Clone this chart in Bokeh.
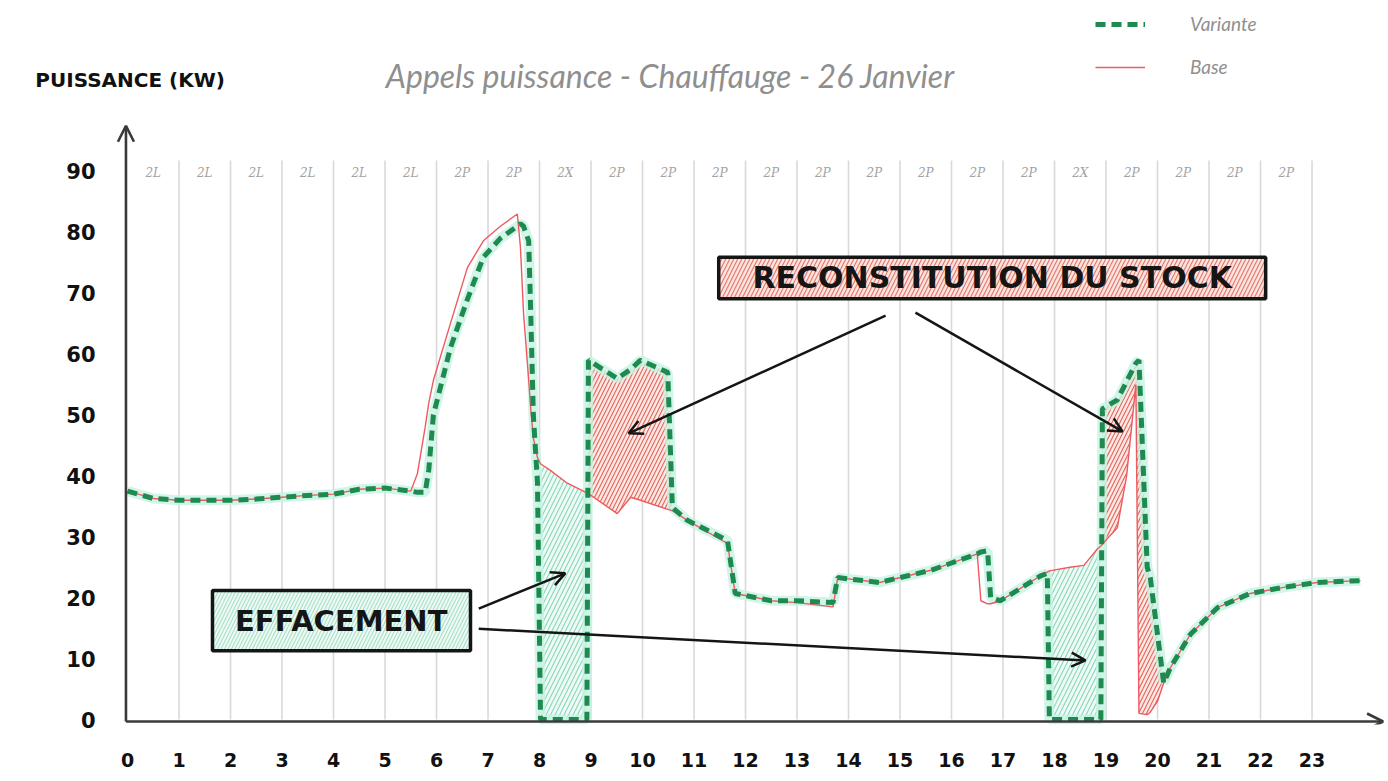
import numpy as np
from bokeh.plotting import figure
from bokeh.models import Range1d, FixedTicker, Legend, LegendItem, Arrow, OpenHead, Label
from bokeh.core.properties import value
from bokeh.embed import file_html
from bokeh.resources import INLINE

# ---------------- data ----------------
hours = [0.0, 0.5, 1.0, 1.5, 2.0, 2.5, 3.0, 3.5, 4.0, 4.5, 5.0, 5.5, 5.63, 5.78, 5.85,
         5.94, 6.27, 6.6, 6.91, 7.24, 7.57, 7.63, 7.69, 7.79, 7.83, 7.88, 7.96, 8.02,
         8.21, 8.54, 8.92, 8.95, 9.51, 9.77, 9.96, 10.49, 10.58, 10.87, 11.65, 11.8,
         12.5, 13.0, 13.7, 13.79, 14.6, 15.6, 16.5, 16.57, 16.7, 16.76, 16.95, 17.73,
         17.86, 17.9, 18.3, 18.57, 18.83, 18.9, 18.93, 19.22, 19.4, 19.58, 19.64, 19.8,
         19.86, 20.0, 20.12, 20.25, 20.64, 21.17, 21.8, 22.45, 23.1, 23.94]
variante = [37.5, 36.3, 36.0, 36.0, 36.0, 36.2, 36.5, 36.8, 37.0, 37.8, 38.0, 37.5, 37.3, 37.3, 41.0,
            50.0, 61.0, 69.0, 75.9, 79.0, 81.0, 81.4, 81.0, 78.6, 66.7, 50.0, 39.0, 0.0,
            0.0, 0.0, 0.0, 59.0, 56.0, 57.5, 59.0, 57.0, 34.8, 32.7, 29.4, 20.7,
            19.5, 19.5, 19.2, 23.3, 22.5, 24.5, 27.2, 27.5, 27.7, 20.0, 19.5, 23.6,
            24.0, 0.0, 0.0, 0.0, 0.0, 0.0, 51.0, 52.5, 55.5, 58.5, 59.0, 25.0,
            23.3, 14.0, 6.0, 8.5, 14.0, 18.4, 20.7, 21.7, 22.5, 22.8]
base = [37.5, 36.3, 36.0, 36.0, 36.0, 36.2, 36.5, 36.8, 37.0, 37.8, 38.0, 37.5, 40.4, 48.0, 52.0,
        55.7, 65.0, 74.2, 78.6, 81.0, 83.0, 77.5, 66.7, 55.7, 51.0, 46.3, 43.0, 42.0,
        40.9, 38.8, 37.2, 37.1, 33.8, 36.5, 36.0, 34.5, 34.3, 32.7, 28.9, 20.7,
        19.5, 19.2, 18.5, 23.3, 22.5, 24.5, 27.2, 19.5, 19.0, 19.0, 19.5, 23.6,
        24.2, 24.4, 25.0, 25.3, 28.0, 28.5, 28.8, 31.5, 40.0, 55.0, 1.0, 0.8,
        1.2, 3.0, 6.0, 8.5, 14.0, 18.4, 20.7, 21.7, 22.5, 22.8]

hour_ticks = list(range(24))
kw_ticks = list(range(0, 100, 10))
column_labels = ["2L", "2L", "2L", "2L", "2L", "2L", "2P", "2P", "2X", "2P", "2P", "2P",
                 "2P", "2P", "2P", "2P", "2P", "2P", "2X", "2P", "2P", "2P", "2P"]
title_text = "Appels puissance - Chauffauge - 26 Janvier"
y_title_text = "PUISSANCE (KW)"
effacement_periods = [(7.96, 8.92), (17.86, 18.9)]
reconstitution_periods = [(8.95, 10.87), (18.93, 20.12)]

h = np.array(hours)
v = np.array(variante)
b = np.array(base)

# ---------------- figure ----------------
W, H = 1385, 778
p = figure(width=W, height=H, output_backend="svg", toolbar_location=None,
           x_range=Range1d(-2.039, 24.427), y_range=Range1d(-0.82, 118.06),
           min_border_left=22, min_border_right=0, min_border_top=0, min_border_bottom=54,
           background_fill_color="white", border_fill_color="white", outline_line_color=None)
p.grid.visible = False

for ax in (p.xaxis[0], p.yaxis[0]):
    ax.axis_line_color = None
    ax.major_tick_line_color = None
    ax.minor_tick_line_color = None
    ax.major_tick_out = 0
    ax.major_tick_in = 0
    ax.minor_tick_out = 0
    ax.minor_tick_in = 0
    ax.major_label_text_font = "DejaVu Sans"
    ax.major_label_text_font_style = "bold"
    ax.major_label_text_color = "#111111"
p.xaxis.major_label_text_font_size = "19px"
p.yaxis.major_label_text_font_size = "21px"
p.xaxis.ticker = FixedTicker(ticks=hour_ticks)
p.yaxis.ticker = FixedTicker(ticks=kw_ticks)
p.xaxis.major_label_standoff = 28
# y labels sit between the page edge and the hand-drawn y arrow
p.yaxis.major_label_standoff = -73

# vertical hour grid
grid_hours = hour_ticks[1:]
p.segment(x0=grid_hours, y0=0, x1=grid_hours, y1=91.8, line_color="#d9d9d9", line_width=1.6)

# column labels
p.text(x=[i + 0.5 for i in range(len(column_labels))], y=[89.8] * len(column_labels),
       text=column_labels, text_align="center", text_baseline="middle",
       text_font=value("DejaVu Serif"), text_font_style="italic", text_font_size="12px",
       text_color="#a3a3a3")

# hatched areas
for a0, a1 in effacement_periods:
    m = (h >= a0) & (h <= a1)
    p.varea(x=h[m], y1=v[m], y2=b[m], fill_color="#effaf6", fill_alpha=1.0,
            hatch_pattern="/", hatch_color="#86d9b7", hatch_scale=9, hatch_weight=1.1)
for a0, a1 in reconstitution_periods:
    m = (h >= a0) & (h <= a1)
    p.varea(x=h[m], y1=v[m], y2=b[m], fill_color="#fdeae6", fill_alpha=1.0,
            hatch_pattern="/", hatch_color="#e6675c", hatch_scale=8, hatch_weight=1.2)

# series
p.line(h, v, line_color="#c6f2e2", line_width=10, line_alpha=0.8)
r_base = p.line(h, b, line_color="#ee5a5f", line_width=1.4)
r_var = p.line(h, v, line_color="#1f8a4f", line_width=5, line_dash="10 6")

# axes arrows
ax_col = "#3a3a3a"
p.add_layout(Arrow(x_start=-0.03, y_start=-0.33, x_end=-0.03, y_end=97.5,
                   line_color=ax_col, line_width=2.6,
                   end=OpenHead(size=16, line_width=2.6, line_color=ax_col)))
p.add_layout(Arrow(x_start=-0.03, y_start=-0.33, x_end=24.38, y_end=-0.33,
                   line_color=ax_col, line_width=2.6,
                   end=OpenHead(size=16, line_width=2.6, line_color=ax_col)))

# header texts
p.text(x=[10.54], y=[105.7], text=[title_text], text_align="center", text_baseline="middle",
       text_font=value("Lato"), text_font_style="italic", text_font_size="32px",
       text_color="#8f8f8f")
p.add_layout(Label(x=-1.79, y=105.0, text=y_title_text, text_align="left",
                   text_baseline="middle", text_font="DejaVu Sans", text_font_style="bold",
                   text_font_size="20px", text_color="#111111"))

# annotation boxes
p.quad(left=[11.48], right=[22.1], bottom=[69.1], top=[75.9], fill_color="#fbe3de",
       hatch_pattern="/", hatch_color="#e6756a", hatch_scale=8, hatch_weight=1.1,
       line_color="#151515", line_width=3.5)
p.text(x=[16.79], y=[72.5], text=["RECONSTITUTION DU STOCK"], text_align="center",
       text_baseline="middle", text_font=value("DejaVu Sans"), text_font_style="bold",
       text_font_size="30px", text_color="#151515")
p.quad(left=[1.65], right=[6.66], bottom=[11.3], top=[21.2], fill_color="#eef9f4",
       hatch_pattern="/", hatch_color="#9adcc0", hatch_scale=7, hatch_weight=1.0,
       line_color="#151515", line_width=3.5)
p.text(x=[4.15], y=[16.2], text=["EFFACEMENT"], text_align="center",
       text_baseline="middle", text_font=value("DejaVu Sans"), text_font_style="bold",
       text_font_size="29px", text_color="#151515")

# annotation arrows
arrow_specs = [((14.72, 66.3), (9.73, 47.0)),
               ((15.3, 66.8), (19.32, 47.3)),
               ((6.82, 18.2), (8.5, 24.0)),
               ((6.82, 14.9), (18.6, 9.7))]
for (xs, ys), (xe, ye) in arrow_specs:
    p.add_layout(Arrow(x_start=xs, y_start=ys, x_end=xe, y_end=ye,
                       line_color="#151515", line_width=2.5,
                       end=OpenHead(size=14, line_width=2.5, line_color="#151515")))

# legend
legend = Legend(items=[LegendItem(label="Variante", renderers=[r_var]),
                       LegendItem(label="Base", renderers=[r_base])],
                location=(1073, 646), orientation="vertical",
                glyph_width=50, glyph_height=20, label_height=20, spacing=20, padding=5,
                label_text_font="Lato", label_text_font_style="italic",
                label_text_font_size="19px", label_text_color="#8f8f8f",
                label_standoff=45,
                background_fill_alpha=0, border_line_color=None)
p.add_layout(legend)

open("out.html", "w").write(file_html(p, INLINE))
